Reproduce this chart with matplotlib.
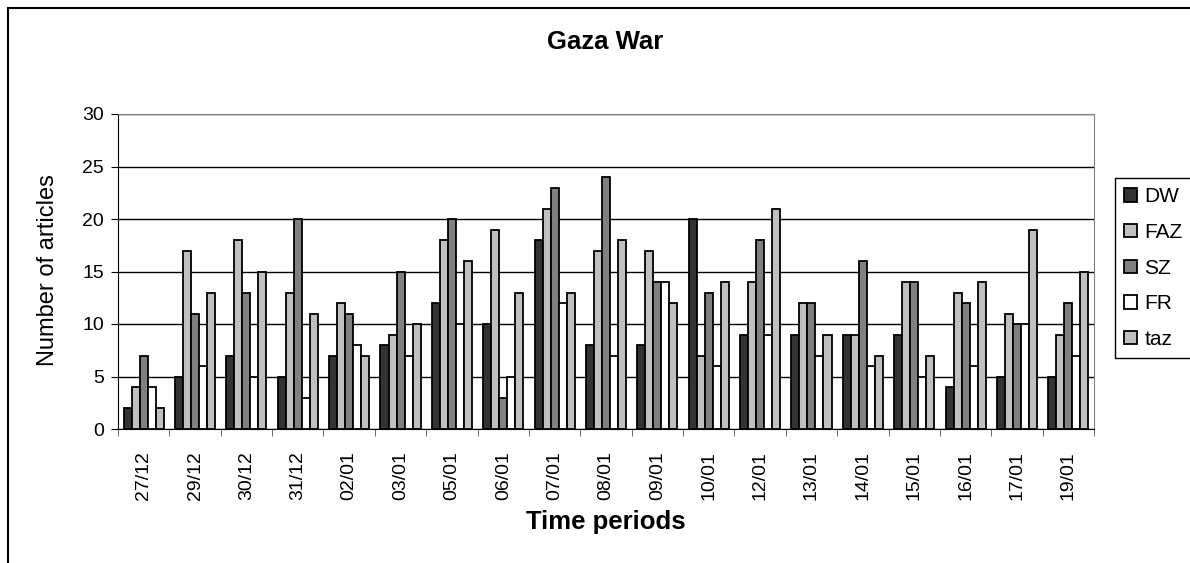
import numpy as np
import matplotlib
matplotlib.use("Agg")
import matplotlib.pyplot as plt
from matplotlib.patches import Rectangle

plt.rcParams['font.family'] = ['Liberation Sans', 'DejaVu Sans']

periods = ['27/12', '29/12', '30/12', '31/12', '02/01', '03/01', '05/01', '06/01',
           '07/01', '08/01', '09/01', '10/01', '12/01', '13/01', '14/01', '15/01',
           '16/01', '17/01', '19/01']

dw  = [2, 5, 7, 5, 7, 8, 12, 10, 18, 8, 8, 20, 9, 9, 9, 9, 4, 5, 5]
faz = [4, 17, 18, 13, 12, 9, 18, 19, 21, 17, 17, 7, 14, 12, 9, 14, 13, 11, 9]
sz  = [7, 11, 13, 20, 11, 15, 20, 3, 23, 24, 14, 13, 18, 12, 16, 14, 12, 10, 12]
fr  = [4, 6, 5, 3, 8, 7, 10, 5, 12, 7, 14, 6, 9, 7, 6, 5, 6, 10, 7]
taz = [2, 13, 15, 11, 7, 10, 16, 13, 13, 18, 12, 14, 21, 9, 7, 7, 14, 19, 15]

series = [('DW', dw, '#333333'), ('FAZ', faz, '#c0c0c0'), ('SZ', sz, '#808080'),
          ('FR', fr, '#ffffff'), ('taz', taz, '#c0c0c0')]

fig = plt.figure(figsize=(11.9, 5.63), dpi=100)
ax = fig.add_axes([118/1190, 1 - 429/563, (1094-118)/1190, (429-114)/563])

x = np.arange(len(periods))
w = 0.156
for i, (name, vals, col) in enumerate(series):
    ax.bar(x + (i - 2) * w, vals, w, color=col, edgecolor='black', linewidth=1.3,
           label=name, zorder=3)

ax.set_xlim(-0.5, len(periods) - 0.5)
ax.set_ylim(0, 30)
ax.set_yticks(range(0, 31, 5))
ax.yaxis.grid(True, color='black', linewidth=1, zorder=0)
ax.tick_params(axis='y', labelsize=14, length=5, direction='out', pad=5)

# category labels in the middle, tick marks on the boundaries
ax.set_xticks(x)
ax.set_xticklabels(periods, rotation=90, fontsize=14)
ax.tick_params(axis='x', which='major', length=0, pad=16)
ax.set_xticks(np.arange(-0.5, len(periods)), minor=True)
ax.tick_params(axis='x', which='minor', length=5, direction='out', color='#555555')

for side in ['top', 'right']:
    ax.spines[side].set_color('#808080')
ax.spines['left'].set_color('black')
ax.spines['bottom'].set_color('black')

fig.text(48/1190, 1 - 270/563, 'Number of articles', rotation=90, ha='center',
         va='center', fontsize=17)
fig.text(605/1190, 1 - 42/563, 'Gaza War', ha='center', va='center',
         fontsize=18.5, fontweight='bold')
fig.text(606/1190, 1 - 522/563, 'Time periods', ha='center', va='center',
         fontsize=18.5, fontweight='bold')

leg = fig.legend(loc='upper left', bbox_to_anchor=(1115/1190, 1 - 178/563),
                 borderaxespad=0, fontsize=15, handlelength=0.6, handleheight=0.6,
                 handletextpad=0.35, labelspacing=0.8, borderpad=0.45, fancybox=False,
                 framealpha=1, edgecolor='black')
leg.get_frame().set_linewidth(1)

# outer chart border
fig.patches.append(Rectangle((8/1190, -0.1), 2, 1.1 - 8/563, transform=fig.transFigure,
                             fill=False, edgecolor='black', linewidth=1.5))

fig.savefig('out.png', dpi=100)
